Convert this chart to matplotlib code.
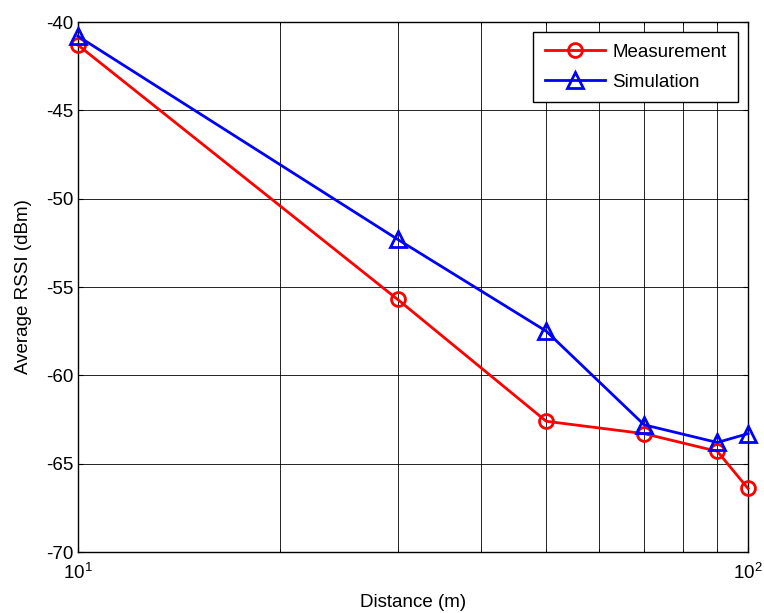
import matplotlib.pyplot as plt
from matplotlib.ticker import LogLocator, NullFormatter

plt.rcParams['font.family'] = ['Liberation Sans', 'DejaVu Sans']
plt.rcParams['axes.unicode_minus'] = False

# Data
distance = [10, 30, 50, 70, 90, 100]
measurement = [-41.3, -55.7, -62.6, -63.3, -64.3, -66.4]
simulation = [-40.8, -52.3, -57.5, -62.8, -63.8, -63.3]

fig = plt.figure(figsize=(7.64, 6.13), dpi=100)
ax = fig.add_axes([0.102, 0.0995, 0.877, 0.8645])

ax.semilogx(distance, measurement, color='red', marker='o', markersize=10,
            markerfacecolor='none', markeredgewidth=2, linewidth=2,
            label='Measurement', clip_on=False, zorder=3)
ax.semilogx(distance, simulation, color='blue', marker='^', markersize=11,
            markerfacecolor='none', markeredgewidth=2, linewidth=2,
            label='Simulation', clip_on=False, zorder=3)

ax.set_xlim(10, 100)
ax.set_ylim(-70, -40)
ax.set_yticks(range(-70, -39, 5))
ax.xaxis.set_minor_locator(LogLocator(base=10, subs=range(2, 10)))
ax.xaxis.set_minor_formatter(NullFormatter())

ax.grid(True, which='both', color='black', linestyle='-', linewidth=0.6)
ax.tick_params(axis='both', which='both', direction='in', labelsize=13.5,
               top=True, right=True)
ax.tick_params(axis='x', which='major', pad=8)
for s in ax.spines.values():
    s.set_linewidth(1)

ax.set_xlabel('Distance (m)', fontsize=13.5, labelpad=8)
ax.set_ylabel('Average RSSI (dBm)', fontsize=13.5, labelpad=10)

leg = ax.legend(loc='upper right', fontsize=13.5, fancybox=False,
                edgecolor='black', framealpha=1, handlelength=3.2,
                handletextpad=0.4, borderpad=0.6, labelspacing=0.7,
                borderaxespad=0.55)
leg.get_frame().set_linewidth(1)

plt.savefig('out.png', dpi=100)
